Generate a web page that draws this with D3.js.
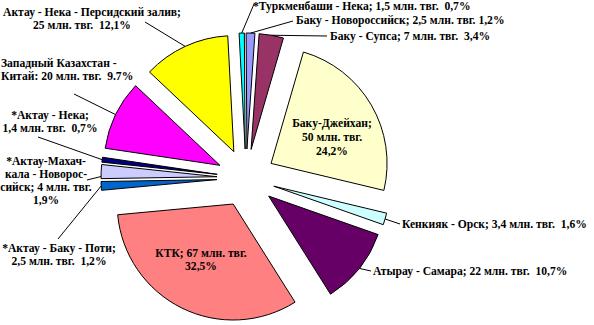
<!DOCTYPE html>
<html>
<head>
<meta charset="utf-8">
<script src="https://cdn.jsdelivr.net/npm/d3@7"></script>
<style>
  body { margin: 0; background: #fff; }
  text { font-family: "Liberation Serif", "Times New Roman", serif; font-weight: bold; font-size: 11.6px; fill: #000; white-space: pre; }
</style>
</head>
<body>
<svg id="chart" width="594" height="325"></svg>
<script>
// data, clockwise from 12 o'clock
const routes = ["*Туркменбаши - Нека", "Баку - Новороссийск", "Баку - Супса", "Баку-Джейхан",
  "Кенкияк - Орск", "Атырау - Самара", "КТК", "*Актау - Баку - Поти",
  "*Актау-Махачкала - Новороссийск", "*Актау - Нека", "Западный Казахстан - Китай",
  "Актау - Нека - Персидский залив"];
const volumes = [1.5, 2.5, 7, 50, 3.4, 22, 67, 2.5, 4, 1.4, 20, 25];
const shares = ["0,7%", "1,2%", "3,4%", "24,2%", "1,6%", "10,7%", "32,5%", "1,2%", "1,9%", "0,7%", "9.7%", "12,1%"];
const labelLines = [
  ["*Туркменбаши - Нека; 1,5 млн. твг.  0,7%"],
  ["Баку - Новороссийск; 2,5 млн. твг. 1,2%"],
  ["Баку - Супса; 7 млн. твг.  3,4%"],
  ["Баку-Джейхан;", "50 млн. твг.", "24,2%"],
  ["Кенкияк - Орск; 3,4 млн. твг.  1,6%"],
  ["Атырау - Самара; 22 млн. твг.  10,7%"],
  ["КТК; 67 млн. твг.", "32,5%"],
  ["*Актау - Баку - Поти;", "2,5 млн. твг.  1,2%"],
  ["*Актау-Махач-", "кала - Новорос-", "сийск; 4 млн. твг.", "1,9%"],
  ["*Актау - Нека;", "1,4 млн. твг.  0,7%"],
  ["Западный Казахстан -", "Китай: 20 млн. твг.  9.7%"],
  ["Актау - Нека - Персидский залив;", "25 млн. твг.  12,1%"]
];

const colors = ["#00FFFF", "#9999FF", "#993366", "#FFFFCC", "#CCFFFF", "#660066",
  "#FF8080", "#0066CC", "#CCCCFF", "#000080", "#FF00FF", "#FFFF00"];

// label placement (x, first baseline y, anchor, leader end near the label, point on arc 0..1)
const layout = [
  { x: 253, y: 10, a: "start", lead: [254, 4] },
  { x: 296, y: 24, a: "start", lead: [293, 21] },
  { x: 330, y: 40, a: "start", lead: [327, 36] },
  { x: 332, y: 127, a: "middle", lh: 14 },
  { x: 402, y: 228, a: "start", lead: [400, 224] },
  { x: 373, y: 275, a: "start", lead: [371, 271] },
  { x: 201, y: 257, a: "middle" },
  { x: 59, y: 252, a: "middle", lead: [58, 239] },
  { x: 46, y: 165, a: "middle", lead: [87, 180], at: 0.15 },
  { x: 50, y: 119, a: "middle", lead: [38, 137] },
  { x: 1, y: 67, a: "start", lead: [74, 94] },
  { x: 92, y: 16, a: "middle", lead: [145, 22], dx: [0, -10] }
];

const width = 594, height = 325;
const cx = 246, cy = 178, R = 116, explode = 29;
const rot = -3 * Math.PI / 180;

const svg = d3.select("#chart");
svg.append("rect").attr("width", width).attr("height", height).attr("fill", "#fff");

const pie = d3.pie().sort(null).value(d => d).startAngle(rot).endAngle(rot + 2 * Math.PI);
const arc = d3.arc().innerRadius(0).outerRadius(R);
const arcs = pie(volumes);

const dir = a => [Math.sin(a), -Math.cos(a)];
const apex = d => {
  const m = dir((d.startAngle + d.endAngle) / 2);
  return [cx + explode * m[0], cy + explode * m[1]];
};

svg.append("g").selectAll("path")
  .data(arcs).enter().append("path")
  .attr("transform", d => `translate(${apex(d)})`)
  .attr("d", arc)
  .attr("fill", (d, i) => colors[i])
  .attr("stroke", "#000")
  .attr("stroke-width", 1)
  .attr("stroke-linejoin", "miter");

// leader lines
svg.append("g").selectAll("line")
  .data(arcs.filter((d, i) => layout[i].lead)).enter().append("line")
  .each(function (d) {
    const L = layout[d.index];
    const t = L.at == null ? 0.5 : L.at;
    const p = apex(d), u = dir(d.startAngle + t * (d.endAngle - d.startAngle));
    d3.select(this)
      .attr("x1", p[0] + R * u[0]).attr("y1", p[1] + R * u[1])
      .attr("x2", L.lead[0]).attr("y2", L.lead[1]);
  })
  .attr("stroke", "#000").attr("stroke-width", 1);

// labels
const labels = svg.append("g").selectAll("text")
  .data(labelLines).enter().append("text")
  .attr("text-anchor", (d, i) => layout[i].a);

labels.each(function (lines, i) {
  const L = layout[i];
  d3.select(this).selectAll("tspan").data(lines).enter().append("tspan")
    .attr("x", (s, j) => L.x + (L.dx ? L.dx[j] : 0))
    .attr("y", (s, j) => L.y + j * (L.lh || 13))
    .text(s => s);
});
</script>
</body>
</html>
